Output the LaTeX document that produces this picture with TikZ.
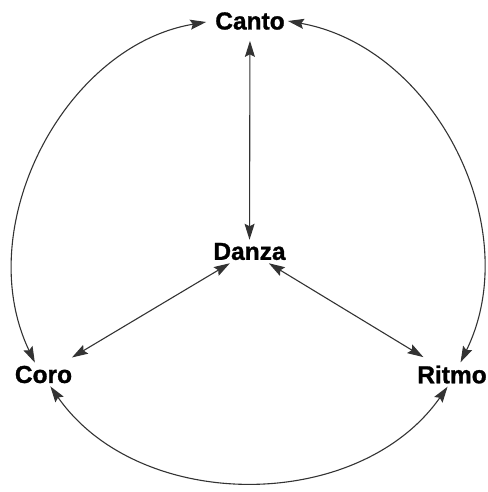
\documentclass[tikz,border=0pt]{standalone}
\usepackage{fontspec}
\setmainfont{Liberation Sans}
\newfontfamily\heavyfont[FakeBold=1.2]{Liberation Sans Bold}
\usetikzlibrary{arrows.meta}

\begin{document}
\begin{tikzpicture}[
  x=1pt, y=1pt,
  word/.style={font=\fontsize{24.5}{28}\selectfont\heavyfont, inner sep=3pt},
  arr/.style={{Stealth[length=16pt,width=10pt,inset=2.5pt]}-{Stealth[length=16pt,width=10pt,inset=2.5pt]}, line width=1.1pt, black!80}
]
\useasboundingbox (0,0) rectangle (487,-492);

\node[word] (canto) at (250,-21) {Canto};
\node[word] (danza) at (249.5,-251.5) {Danza};
\node[word] (coro) at (43.5,-374.5) {Coro};
\node[word] (ritmo) at (452,-374.5) {Ritmo};

\draw[arr, shorten <=8pt] (canto) -- (danza);
\draw[arr, shorten >=10pt] (danza) -- (coro);
\draw[arr, shorten >=10pt] (danza) -- (ritmo);
\draw[arr, shorten <=6pt] (canto.west) to[bend right=53] (coro.126);
\draw[arr] (canto.east) to[bend left=53] (ritmo.55);
\draw[arr] (coro.-60) to[bend right=55] (ritmo.-110);
\end{tikzpicture}
\end{document}
